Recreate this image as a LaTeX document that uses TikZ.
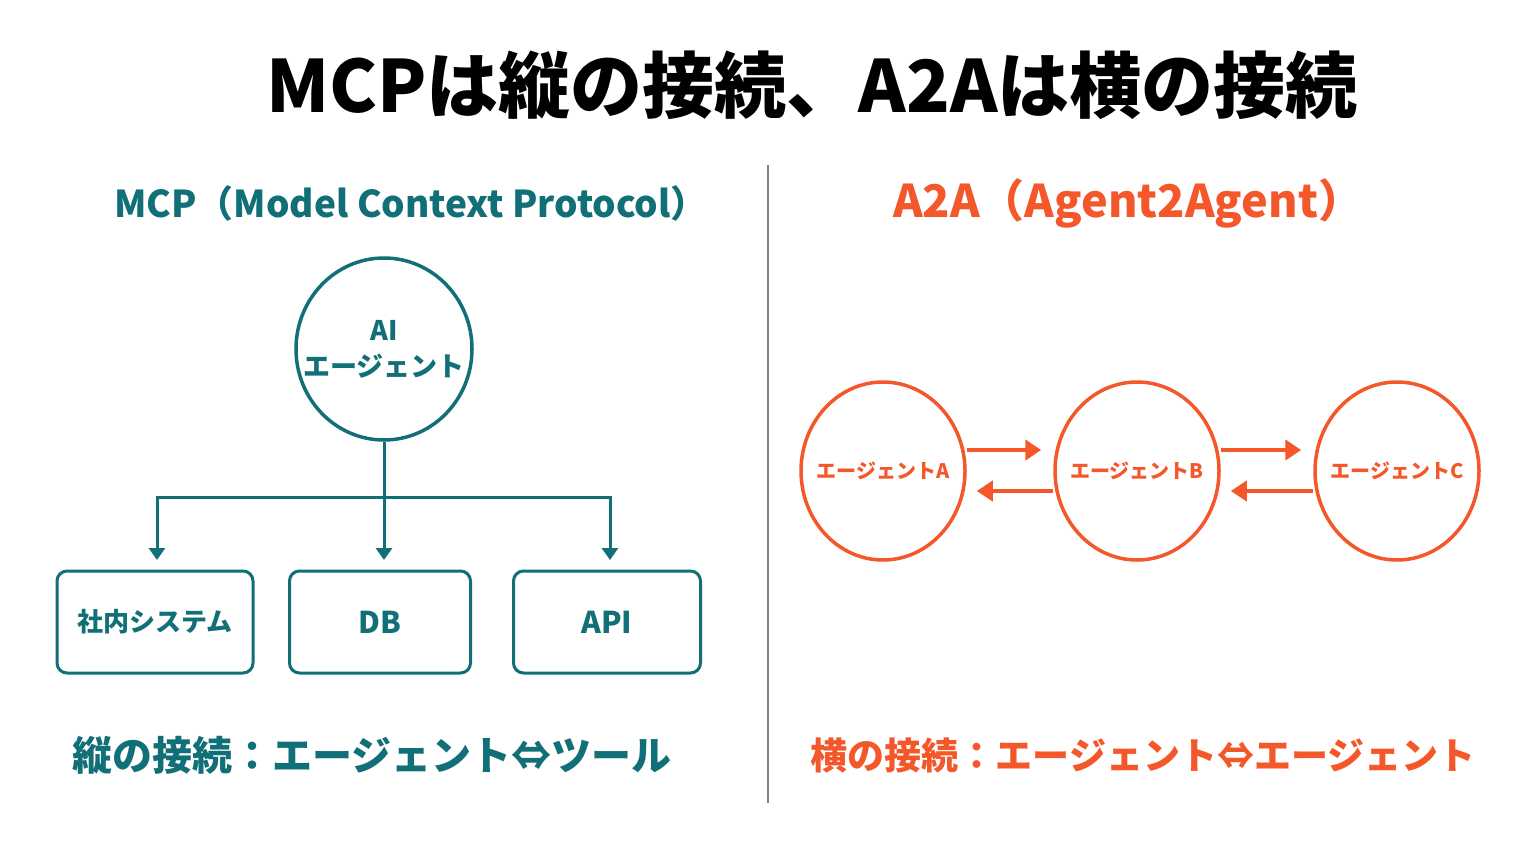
\documentclass[tikz,border=0pt]{standalone}
\usepackage{fontspec}
\newfontfamily\jp{Noto Sans CJK JP}
\newcommand\jpb{\jp\bfseries}
\usetikzlibrary{arrows.meta,shapes.geometric}
\definecolor{teal}{HTML}{116F77}
\definecolor{org}{HTML}{F4572A}
\begin{document}
\begin{tikzpicture}[x=1pt,y=-1pt,
  tbox/.style={draw=teal,line width=3pt,rounded corners=10pt,text=teal,font=\jpb\fontsize{30}{34}\selectfont},
  oc/.style={draw=org,line width=3.5pt,ellipse,inner sep=0pt,minimum width=164pt,minimum height=178pt},
  olab/.style={text=org,font=\jpb\fontsize{20}{24}\selectfont},
  tarr/.style={draw=teal,line width=3pt,-{Triangle[length=12pt,width=16pt]}},
  oarr/.style={draw=org,line width=4pt,-{Triangle[length=16pt,width=20pt]}}]
\useasboundingbox[fill=white] (0,0) rectangle (1536,864);
\node (title) at (812,85) {\jpb\fontsize{72}{80}\selectfont MCPは縦の接続、A2Aは横の接続};
\coordinate (d1) at (768,165); \coordinate (d2) at (768,803);
\draw[gray,line width=2pt] (d1) -- (d2);
\node[text=teal] (h1) at (411,203) {\jpb\fontsize{37}{42}\selectfont MCP（Model Context Protocol）};
\node[text=org] (h2) at (1128,203) {\jpb\fontsize{45}{50}\selectfont A2A（Agent2Agent）};
\node[draw=teal,line width=3.5pt,ellipse,inner sep=0pt,minimum width=176pt,minimum height=182pt] (ai) at (384,349) {};
\node[text=teal,align=center,font=\jpb\fontsize{27}{36}\selectfont] (ail) at (ai.center) {AI\\エージェント};
\node[tbox,minimum width=196pt,minimum height=102pt,font=\jpb\fontsize{26}{30}\selectfont] (b1) at (155,622) {社内システム};
\node[tbox,minimum width=181pt,minimum height=102pt] (b2) at (380,622) {DB};
\node[tbox,minimum width=187pt,minimum height=102pt] (b3) at (607,622) {API};
\coordinate (j) at (384,497);
\coordinate (t1) at (157,560); \coordinate (t2) at (384,560); \coordinate (t3) at (610,560);
\draw[teal,line width=3pt] (ai.south) -- (j);
\draw[tarr] (j) -| (t1);
\draw[tarr] (j) -| (t3);
\draw[tarr] (j) -- (t2);
\node[text=teal] (f1) at (372,755) {\jpb\fontsize{40}{44}\selectfont 縦の接続：エージェント⇔ツール};
\node[oc] (a) at (883,471) {};
\node[oc] (b) at (1137,471) {};
\node[oc] (c) at (1397,471) {};
\node[olab] (al) at (a.center) {エージェントA};
\node[olab] (bl) at (b.center) {エージェントB};
\node[olab] (cl) at (c.center) {エージェントC};
\draw[oarr] ([yshift=21pt]a.east) -- ([xshift=-12pt,yshift=21pt]b.west);
\draw[oarr] ([yshift=-20pt]b.west) -- ([xshift=10pt,yshift=-20pt]a.east);
\draw[oarr] ([yshift=21pt]b.east) -- ([xshift=-12pt,yshift=21pt]c.west);
\draw[oarr] ([yshift=-20pt]c.west) -- ([xshift=10pt,yshift=-20pt]b.east);
\node[text=org] (f2) at (1143,755) {\jpb\fontsize{37}{42}\selectfont 横の接続：エージェント⇔エージェント};
\end{tikzpicture}
\end{document}
